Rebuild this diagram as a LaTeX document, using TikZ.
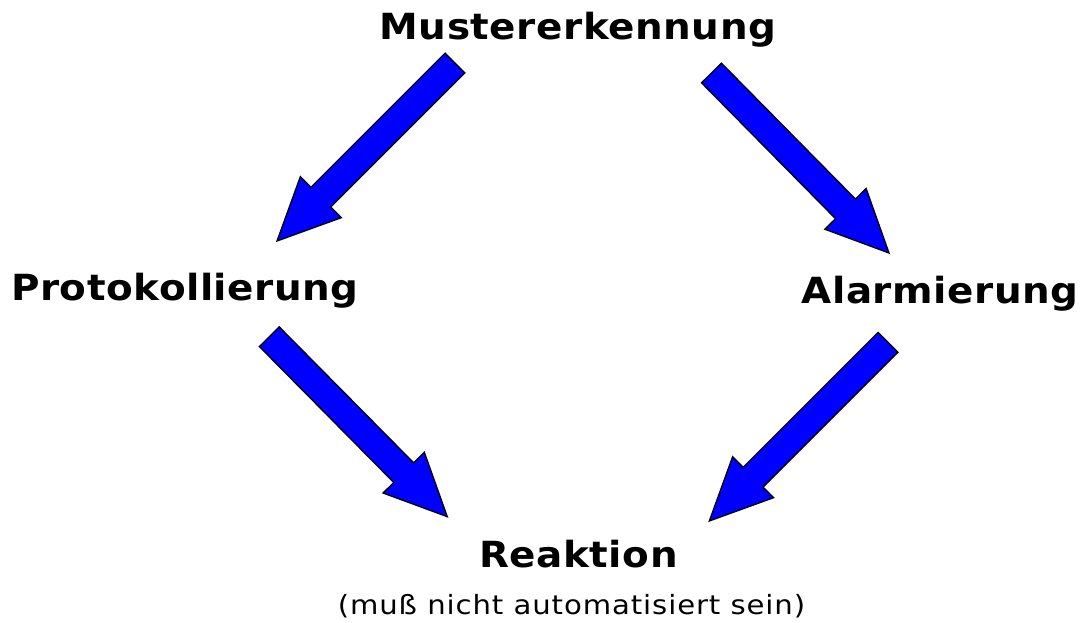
\documentclass[tikz,border=0pt]{standalone}
\usepackage{fontspec}
\setmainfont{DejaVu Sans}
\newfontfamily\titlefont{DejaVu Sans}[FakeStretch=1.08, LetterSpace=1.5]
\newfontfamily\notefont{DejaVu Sans}[FakeStretch=1.1, LetterSpace=3.4]
\usetikzlibrary{calc}

% block arrow from tail #1 to tip #2
\newcommand\blockarrow[2]{%
	\path ($(#2)!62pt!(#1)$) coordinate (#1-h);
	\draw[arrowbody] ($(#1)!14pt!90:(#2)$) -- ($(#1-h)!14pt!90:(#2)$)
		-- ($(#1-h)!29pt!90:(#2)$) -- (#2) -- ($(#1-h)!29pt!-90:(#2)$)
		-- ($(#1-h)!14pt!-90:(#2)$) -- ($(#1)!14pt!-90:(#2)$) -- cycle;
}

\begin{document}
\begin{tikzpicture}[x=1pt, y=-1pt, line join=miter,
	arrowbody/.style={fill=blue, draw=black, line width=1.3pt},
	title/.style={font=\titlefont\fontsize{36}{40}\selectfont\bfseries, anchor=base, inner sep=0pt},
	note/.style={font=\notefont\fontsize{26.5}{30}\selectfont, anchor=base, inner sep=0pt}]
	\useasboundingbox (0, 0) rectangle (1083, 622);

	\node[title] (muster) at (578, 39) {Mustererkennung};
	\node[title] (protokoll) at (185, 300) {Protokollierung};
	\node[title] (alarm) at (940, 303) {Alarmierung};
	\node[title] (reaktion) at (578.5, 567) {Reaktion};
	\node[note] (hinweis) at (571.5, 614) {(muß nicht automatisiert sein)};

	% arrow ends
	\coordinate (a1) at (455, 63);    \coordinate (b1) at (277, 241);
	\coordinate (a2) at (711.5, 73);  \coordinate (b2) at (889, 253);
	\coordinate (a3) at (269.3, 336.7); \coordinate (b3) at (447.3, 516.7);
	\coordinate (a4) at (888, 342.3); \coordinate (b4) at (709.3, 521);

	\foreach \s/\t in {a1/b1, a2/b2, a3/b3, a4/b4} \blockarrow{\s}{\t};
\end{tikzpicture}
\end{document}
